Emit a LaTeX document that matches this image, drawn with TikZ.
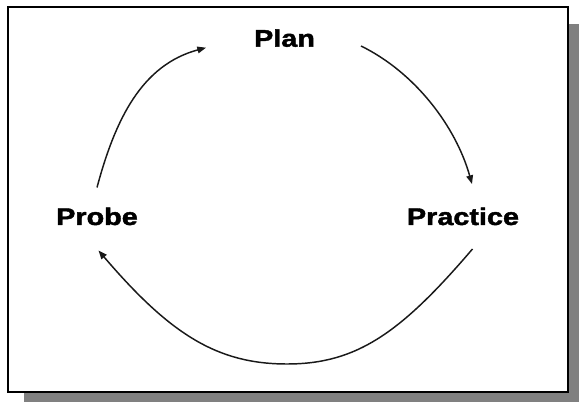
\documentclass[tikz,border=0pt]{standalone}
\usepackage{fontspec}
\newfontfamily\cyclefont[FakeStretch=1.2,FakeBold=1.8]{Liberation Sans Bold}
\usetikzlibrary{arrows.meta}

\tikzset{
  stage/.style={anchor=base,inner sep=0.75pt,font=\cyclefont\fontsize{18pt}{20pt}\selectfont},
  cyclearrow/.style={line width=1.1pt,color={rgb,255:red,25;green,25;blue,25},-{Triangle[length=6.5pt,width=5pt]}}
}

\begin{document}
\begin{tikzpicture}[x=0.75pt,y=0.75pt,yscale=-1,xscale=1]
\useasboundingbox (0,0) rectangle (579,402);

%Shape: Shadow [id:shadow]
\fill [color={rgb,255:red,128;green,128;blue,128}] (24,24) rectangle (579,402);
%Shape: Frame [id:frame]
\draw [fill=white,line width=1.5pt] (7.5,7.5) rectangle (567.5,392);

% Text Node
\node [stage] (plan) at (284.5,46.7) {Plan};
% Text Node
\node [stage] (probe) at (97,225) {Probe};
% Text Node
\node [stage] (practice) at (463,225) {Practice};

% Arrow ends
\coordinate (probe-out) at (97,187.5);
\coordinate (plan-in) at (206,47.7);
\coordinate (plan-out) at (361,46);
\coordinate (practice-in) at (472,184);
\coordinate (practice-out) at (472.5,249);
\coordinate (cycle-bottom) at (287,364);
\coordinate (probe-in) at (98.5,250.5);

%Curve Lines [id:probe-plan]
\draw [cyclearrow] (probe-out) .. controls (115.2,119.6) and (141.6,65) .. (plan-in);
%Curve Lines [id:plan-practice]
\draw [cyclearrow] (plan-out) .. controls (415,72.4) and (455.8,126.4) .. (practice-in);
%Curve Lines [id:practice-probe]
\draw [cyclearrow] (practice-out) .. controls (401,332.6) and (357,364) .. (cycle-bottom)
  .. controls (217,364) and (170,334.1) .. (probe-in);

\end{tikzpicture}
\end{document}
